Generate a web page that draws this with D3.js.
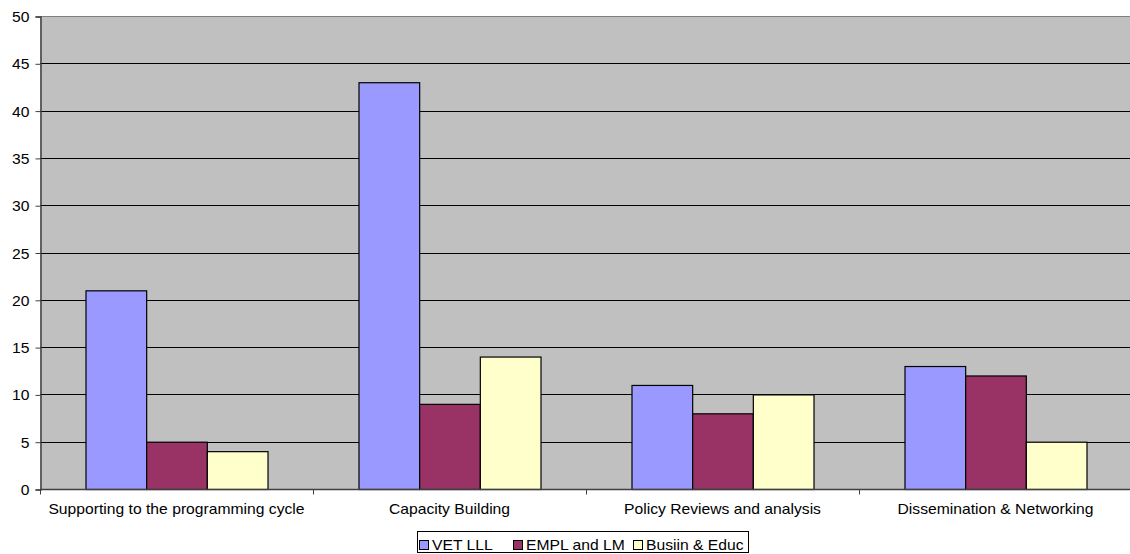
<!DOCTYPE html>
<html>
<head>
<meta charset="utf-8">
<script src="https://cdn.jsdelivr.net/npm/d3@7"></script>
<style>
  html, body { margin: 0; padding: 0; background: #fff; }
  svg { display: block; font-family: "Liberation Sans", Arial, sans-serif; }
</style>
</head>
<body>
<svg id="chart" width="1130" height="554"></svg>
<script>
// Activity categories and the three series plotted for each
const categories = ["Supporting to the programming cycle", "Capacity Building", "Policy Reviews and analysis", "Dissemination & Networking"];
const seriesNames = ["VET LLL", "EMPL and LM", "Busiin & Educ"];
const vetLLL = [21, 43, 11, 13];
const emplLM = [5, 9, 8, 12];
const busEduc = [4, 14, 10, 5];
const yTicks = [0, 5, 10, 15, 20, 25, 30, 35, 40, 45, 50];
const seriesColors = ["#9999FF", "#993366", "#FFFFCC"];

const seriesValues = [vetLLL, emplLM, busEduc];
const rows = categories.map((c, i) => ({ cat: c, vals: seriesValues.map(s => s[i]) }));

const svg = d3.select("#chart");
const plot = { left: 40, top: 16, right: 1132, bottom: 489 };
const FONT = 14;
const STRETCH = 1.12; // labels are drawn slightly wide

// place a text label at (x, y), widened horizontally around its anchor
function placeText(sel, x, y) {
  sel.attr("x", 0).attr("y", 0)
     .attr("transform", (d, i) => `translate(${x(d, i)},${y(d, i)}) scale(${STRETCH},1)`);
}

const x = d3.scaleBand().domain(categories).range([plot.left, plot.right]).paddingInner(0).paddingOuter(0);
const y = d3.scaleLinear().domain([0, 50]).range([plot.bottom, plot.top]);

// plot background
svg.append("rect")
  .attr("x", plot.left).attr("y", plot.top)
  .attr("width", plot.right - plot.left).attr("height", plot.bottom - plot.top)
  .attr("fill", "#C0C0C0");

// horizontal gridlines
svg.append("g").selectAll("line")
  .data(yTicks.filter(t => t > 0))
  .join("line")
  .attr("x1", plot.left).attr("x2", plot.right)
  .attr("y1", d => Math.round(y(d)) + 0.5).attr("y2", d => Math.round(y(d)) + 0.5)
  .attr("stroke", d => d === 50 ? "#808080" : "#000")
  .attr("stroke-width", 1);

// bars: each category split into three series slots with a gap of 1.5 bar widths
const inner = d3.scaleBand().domain(d3.range(seriesNames.length))
  .range([0, x.bandwidth()]).paddingInner(0).paddingOuter(0.75);

const groups = svg.append("g").selectAll("g")
  .data(rows).join("g")
  .attr("transform", d => `translate(${x(d.cat)},0)`);

groups.selectAll("rect")
  .data(d => d.vals.map((v, k) => ({ v, k })))
  .join("rect")
  .attr("x", d => inner(d.k) + 0.5)
  .attr("y", d => y(d.v) + 0.5)
  .attr("width", inner.bandwidth())
  .attr("height", d => y(0) - y(d.v))
  .attr("fill", d => seriesColors[d.k])
  .attr("stroke", "#000")
  .attr("stroke-width", 1.2);

// y axis
const yAxis = d3.axisLeft(y).tickValues(yTicks).tickSize(5).tickPadding(4);
const gy = svg.append("g").attr("transform", `translate(${plot.left + 0.5},0.5)`).call(yAxis);
gy.select(".domain").attr("stroke", "#404040").attr("stroke-width", 1.5);
gy.selectAll(".tick line").attr("stroke", "#404040");
gy.selectAll(".tick text")
  .attr("font-size", FONT).attr("fill", "#000").attr("dy", null)
  .attr("font-family", "'Liberation Sans', Arial, sans-serif")
  .call(placeText, () => -11, () => 5);

// x axis with ticks at category boundaries
const gx = svg.append("g").attr("transform", `translate(0,${plot.bottom + 0.5})`);
gx.append("line").attr("x1", plot.left).attr("x2", plot.right)
  .attr("stroke", "#404040").attr("stroke-width", 1.5);
const bounds = categories.map(c => x(c)).concat([plot.right]);
gx.selectAll("line.tk").data(bounds).join("line").attr("class", "tk")
  .attr("x1", d => Math.round(d) + 0.5).attr("x2", d => Math.round(d) + 0.5)
  .attr("y1", 0).attr("y2", 5).attr("stroke", "#404040");
gx.selectAll("text").data(categories).join("text")
  .attr("text-anchor", "middle")
  .attr("font-size", FONT)
  .attr("fill", "#000")
  .text(d => d)
  .call(placeText, d => x(d) + x.bandwidth() / 2, () => 24);

// legend
const legend = svg.append("g");
legend.append("rect")
  .attr("x", 417.5).attr("y", 531.5).attr("width", 331).attr("height", 21)
  .attr("fill", "#fff").attr("stroke", "#000").attr("stroke-width", 1);
const legendX = [419, 513, 633];
const items = legend.selectAll("g.item").data(seriesNames).join("g").attr("class", "item")
  .attr("transform", (d, i) => `translate(${legendX[i]},0)`);
items.append("rect").attr("x", 0.5).attr("y", 540.5).attr("width", 9).attr("height", 9)
  .attr("fill", (d, i) => seriesColors[i]).attr("stroke", "#000").attr("stroke-width", 1);
items.append("text").attr("font-size", FONT).attr("fill", "#000").text(d => d)
  .call(placeText, () => 13, () => 550);
</script>
</body>
</html>
